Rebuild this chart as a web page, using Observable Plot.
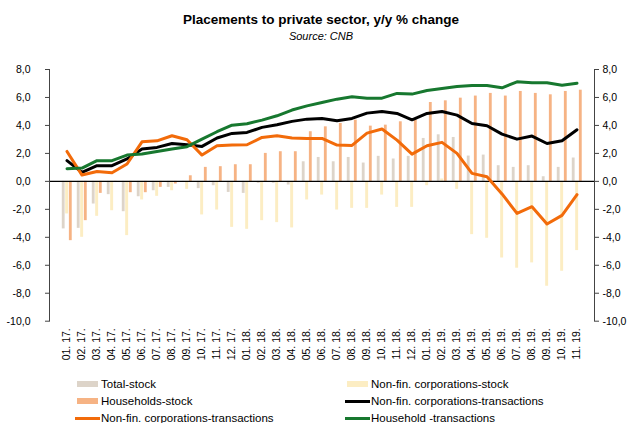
<!DOCTYPE html>
<html><head><meta charset="utf-8">
<script src="https://cdn.jsdelivr.net/npm/d3@7"></script>
<script src="https://cdn.jsdelivr.net/npm/@observablehq/plot@0.6"></script>
<style>
body{margin:0;background:#fff;font-family:"Liberation Sans",Arial,sans-serif;color:#000;}
#wrap{position:relative;width:630px;height:423px;overflow:hidden;}
#head{position:relative;height:50px;}
#title{position:absolute;left:0;width:642px;top:12px;text-align:center;font-weight:bold;font-size:13.5px;}
#sub{position:absolute;left:0;width:642px;top:30px;text-align:center;font-style:italic;font-size:11px;}
#legend{position:relative;height:53px;font-size:11.5px;}
.li{position:absolute;white-space:nowrap;line-height:14px;}
.sw{position:absolute;}
svg{display:block;}
</style>
</head><body>
<div id="wrap">
<div id="head"><div id="title">Placements to private sector, y/y % change</div><div id="sub">Source: CNB</div></div>
<div id="chart"></div>
<div id="legend"></div>
</div>
<script>
const months = ["01. 17.","02. 17.","03. 17.","04. 17.","05. 17.","06. 17.","07. 17.","08. 17.","09. 17.","10. 17.","11. 17.","12. 17.",
"01. 18.","02. 18.","03. 18.","04. 18.","05. 18.","06. 18.","07. 18.","08. 18.","09. 18.","10. 18.","11. 18.","12. 18.",
"01. 19.","02. 19.","03. 19.","04. 19.","05. 19.","06. 19.","07. 19.","08. 19.","09. 19.","10. 19.","11. 19."];

const totalStock = [-3.4,-3.36,-1.62,-0.95,-2.17,-1.1,-0.67,-0.43,-0.05,-0.52,-0.31,-0.79,
-0.86,-0.14,-0.14,-0.26,1.4,1.71,1.4,1.71,1.31,1.79,1.6,1.79,
3.07,3.33,3.14,1.81,1.88,1.12,1.0,1.12,0.33,1.0,1.67];

const nfcStock = [-2.33,-4.0,-2.5,-2.1,-3.88,-1.33,-1.07,-0.67,-0.57,-2.4,-2.05,-3.29,
-3.43,-2.81,-2.95,-3.33,-1.33,-0.98,-2.05,-1.93,-1.93,-0.98,-1.86,-1.86,
-0.31,0.17,-0.57,-3.81,-4.07,-5.48,-6.21,-5.83,-7.5,-6.43,-4.95];

const hhStock = [-4.24,-2.81,-0.86,-0.07,-0.81,-0.81,-0.43,-0.19,0.4,1.0,1.05,1.19,
1.19,2.0,2.12,2.12,3.55,3.9,4.14,4.38,3.95,4.02,4.26,4.38,
5.64,5.76,5.95,6.1,6.29,6.1,6.43,6.29,6.19,6.43,6.52];

const nfcTransBlack = [1.48,0.64,1.12,1.12,1.6,2.31,2.43,2.71,2.62,2.5,3.1,3.43,
3.5,3.86,4.05,4.29,4.45,4.5,4.33,4.5,4.88,5.0,4.86,4.4,
4.86,5.0,4.74,4.14,3.98,3.38,3.02,3.24,2.71,2.9,3.69];

const nfcTransOrange = [2.14,0.45,0.71,0.62,1.24,2.83,2.9,3.26,2.98,1.88,2.55,2.6,
2.62,3.14,3.26,3.1,3.07,3.07,2.6,2.57,3.45,3.74,2.95,1.95,
2.55,2.79,2.0,0.57,0.33,-0.9,-2.29,-1.81,-3.05,-2.43,-0.95];

const hhTrans = [0.9,0.95,1.48,1.48,1.88,1.95,2.14,2.31,2.48,3.02,3.55,4.02,
4.12,4.38,4.69,5.1,5.4,5.64,5.88,6.05,5.95,5.95,6.29,6.24,
6.5,6.64,6.79,6.86,6.86,6.69,7.12,7.05,7.05,6.88,7.02];

const yTicks = [-10,-8,-6,-4,-2,0,2,4,6,8];

const seriesNames = ["Total-stock","Non-fin. corporations-stock","Households-stock",
"Non-fin. corporations-transactions","Non-fin. corporations-transactions","Household -transactions"];
const colors = ["#DDD4C9","#FCEDC3","#F6B384","#000000","#F26B0A","#17782F"];

const rows = months.map((m,i)=>({m, tot:totalStock[i], nfc:nfcStock[i], hh:hhStock[i],
  bl:nfcTransBlack[i], or:nfcTransOrange[i], gr:hhTrans[i]}));

const W=630, ML=49, MR=36;
const half=(W-ML-MR)/months.length/2;
const fmt = d => d.toFixed(1).replace(".", ",");

const chart = Plot.plot({
  width:W, height:320, marginTop:19, marginBottom:49.3, marginLeft:ML, marginRight:MR,
  style:{fontFamily:'"Liberation Sans",Arial,sans-serif', fontSize:"10.5px", color:"#000", background:"#fff"},
  x:{type:"band", domain:months, padding:0, label:null},
  y:{domain:[-10,8], label:null},
  marks:[
    Plot.barY(rows,{x:"m", y:"tot", fill:colors[0], insetLeft:half-5, insetRight:half+1.6}),
    Plot.barY(rows,{x:"m", y:"nfc", fill:colors[1], insetLeft:half-1.6, insetRight:half-1.9}),
    Plot.barY(rows,{x:"m", y:"hh", fill:colors[2], insetLeft:half+2.1, insetRight:half-5.5}),
    Plot.ruleY([0],{stroke:"#000", strokeWidth:1.3}),
    Plot.line(rows,{x:"m", y:"bl", stroke:colors[3], strokeWidth:3}),
    Plot.line(rows,{x:"m", y:"or", stroke:colors[4], strokeWidth:3}),
    Plot.line(rows,{x:"m", y:"gr", stroke:colors[5], strokeWidth:3}),
    Plot.axisY(yTicks,{anchor:"left", tickFormat:fmt, tickSize:4, tickPadding:15, stroke:"#444", label:null}),
    Plot.axisY(yTicks,{anchor:"right", tickFormat:fmt, tickSize:4, tickPadding:4, stroke:"#444", label:null}),
    Plot.axisX({anchor:"bottom", tickRotate:-90, tickSize:0, tickPadding:7, label:null}),
    Plot.frame({anchor:"left", stroke:"#444"}),
    Plot.frame({anchor:"right", stroke:"#444"})
  ]
});
document.getElementById("chart").appendChild(chart);

// legend
const lg = document.getElementById("legend");
const pos = [[77,14],[347,14],[77,31],[347,31],[77,48],[347,48]];
const isLine = [false,false,false,true,true,true];
seriesNames.forEach((name,i)=>{
  const [x,cy] = pos[i];
  const sw = document.createElement("div");
  sw.className="sw";
  if(isLine[i]){ sw.style.left=(x-2)+"px"; sw.style.width="25px"; sw.style.top=(cy-1.5)+"px"; sw.style.height="3px"; }
  else { sw.style.left=x+"px"; sw.style.width="21px"; sw.style.top=(cy-3)+"px"; sw.style.height="6px"; }
  sw.style.background=colors[i];
  lg.appendChild(sw);
  const t = document.createElement("div");
  t.className="li"; t.textContent=name;
  t.style.left=(x+24)+"px"; t.style.top=(cy-7.5)+"px";
  lg.appendChild(t);
});
</script>
</body></html>
